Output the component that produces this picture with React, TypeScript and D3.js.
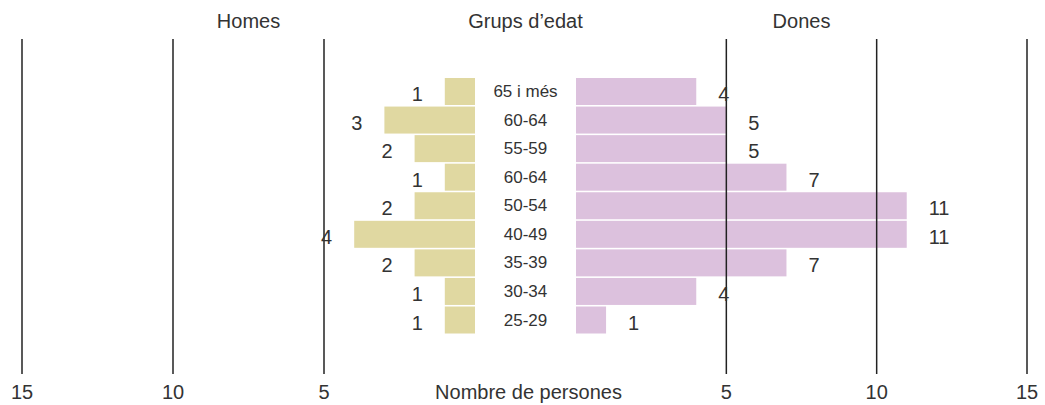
import React from "react";
import * as d3 from "d3";

const ageGroups = ["65 i més", "60-64", "55-59", "60-64", "50-54", "40-49", "35-39", "30-34", "25-29"];
const men = [1, 3, 2, 1, 2, 4, 2, 1, 1];
const women = [4, 5, 5, 7, 11, 11, 7, 4, 1];
const gridTicks = [5, 10, 15];
const headers = { left: "Homes", center: "Grups d\u2019edat", right: "Dones" };
const axisTitle = "Nombre de persones";

const W = 1045;
const H = 405;
const FONT = "'Liberation Sans', Arial, Helvetica, sans-serif";
const TEXT = "#333";
const MEN_COLOR = "#e0d8a1";
const WOMEN_COLOR = "#dcc1dd";

export default function App() {
  const xL = d3.scaleLinear().domain([0, 15]).range([475, 22]);
  const xR = d3.scaleLinear().domain([0, 15]).range([576, 1027]);
  const y = d3
    .scaleBand<number>()
    .domain(ageGroups.map((_, i) => i))
    .range([78, 333.5])
    .paddingInner(0.055)
    .paddingOuter(0);
  const bw = y.bandwidth();
  const midX = (xL(0) + xR(0)) / 2;
  const gridTop = 39;
  const gridBottom = 374;

  return (
    <svg
      width={W}
      height={H}
      style={{ position: "absolute", left: 0, top: 0, background: "#fff" }}
      fontFamily={FONT}
    >
      {/* Bars */}
      {men.map((v, i) => (
        <rect
          key={"m" + i}
          x={xL(v)}
          y={y(i)}
          width={xL(0) - xL(v)}
          height={bw}
          fill={MEN_COLOR}
        />
      ))}
      {women.map((v, i) => (
        <rect
          key={"w" + i}
          x={xR(0)}
          y={y(i)}
          width={xR(v) - xR(0)}
          height={bw}
          fill={WOMEN_COLOR}
        />
      ))}

      {/* Grid lines */}
      {gridTicks.map((t) => (
        <g key={"g" + t}>
          <line x1={xL(t)} x2={xL(t)} y1={gridTop} y2={gridBottom} stroke="#222" strokeWidth={1.5} />
          <line x1={xR(t)} x2={xR(t)} y1={gridTop} y2={gridBottom} stroke="#222" strokeWidth={1.5} />
        </g>
      ))}

      {/* Category labels */}
      {ageGroups.map((c, i) => (
        <text
          key={"c" + i}
          x={midX}
          y={(y(i) as number) + bw / 2 + 5.5}
          textAnchor="middle"
          fontSize={17}
          fill={TEXT}
        >
          {c}
        </text>
      ))}

      {/* Value labels */}
      {men.map((v, i) => (
        <text
          key={"ml" + i}
          x={xL(v) - 22}
          y={(y(i) as number) + bw / 2 + 9.5}
          textAnchor="end"
          fontSize={20}
          fill={TEXT}
        >
          {v}
        </text>
      ))}
      {women.map((v, i) => (
        <text
          key={"wl" + i}
          x={xR(v) + 22}
          y={(y(i) as number) + bw / 2 + 9.5}
          textAnchor="start"
          fontSize={20}
          fill={TEXT}
        >
          {v}
        </text>
      ))}

      {/* Headers */}
      <text x={(xL(5) + xL(10)) / 2} y={28} textAnchor="middle" fontSize={20} fill={TEXT}>
        {headers.left}
      </text>
      <text x={midX} y={28} textAnchor="middle" fontSize={20} fill={TEXT}>
        {headers.center}
      </text>
      <text x={(xR(5) + xR(10)) / 2} y={28} textAnchor="middle" fontSize={20} fill={TEXT}>
        {headers.right}
      </text>

      {/* Bottom axis labels */}
      {gridTicks.map((t) => (
        <g key={"t" + t}>
          <text x={xL(t)} y={399} textAnchor="middle" fontSize={20} fill={TEXT}>
            {t}
          </text>
          <text x={xR(t)} y={399} textAnchor="middle" fontSize={20} fill={TEXT}>
            {t}
          </text>
        </g>
      ))}
      <text x={midX + 3} y={399} textAnchor="middle" fontSize={20} fill={TEXT}>
        {axisTitle}
      </text>
    </svg>
  );
}
